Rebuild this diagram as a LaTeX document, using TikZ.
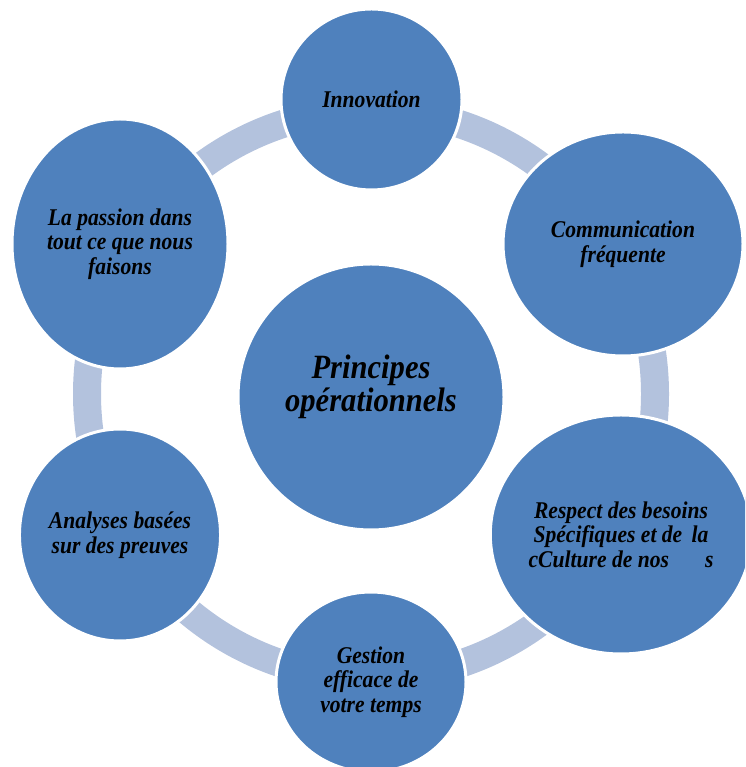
\documentclass[tikz,border=0pt]{standalone}
\usepackage{fontspec}
\newfontfamily\bubblefont[FakeStretch=0.9]{Liberation Serif}
\usetikzlibrary{shapes.geometric}

\definecolor{bubbleblue}{HTML}{4F81BD}
\definecolor{ringblue}{HTML}{B3C2DD}

\tikzset{
  bubble/.style={ellipse, fill=bubbleblue, draw=white, line width=3pt,
    inner sep=0pt, align=center,
    font=\bubblefont\bfseries\itshape\fontsize{24}{24.5}\selectfont},
  hubtext/.style={align=center,
    font=\bubblefont\bfseries\itshape\fontsize{34}{33}\selectfont},
  ring/.style={draw=ringblue, line width=28pt}
}

\begin{document}
\begin{tikzpicture}[x=1pt,y=1pt]
    \useasboundingbox (0,0) rectangle (745,767);
    \clip (0,0) rectangle (745,767);

    % the band behind the bubbles
    \draw[ring] (371,373) circle (284);

    \node[bubble, minimum width=266, minimum height=266] (hub) at (371,370) {};
    \node[hubtext] (hubtitle) at (371,380) {Principes\\opérationnels};

    \node[bubble, minimum width=181, minimum height=181] (inno) at (371.5,667.5) {Innovation};
    \node[bubble, minimum width=240, minimum height=224] (comm) at (623,523) {Communication\\ fréquente};
    \node[bubble, minimum width=258, minimum height=239] (resp) at (621,232.5)
        {Respect des besoins\\ Spécifiques et de\ \,la\\cCulture de nos\hspace{36pt}s};
    \node[bubble, minimum width=190, minimum height=180] (gest) at (371,85) {Gestion\\ efficace de\\votre temps};
    \node[bubble, minimum width=200, minimum height=212] (anal) at (120,232) {Analyses basées\\ sur des preuves};
    \node[bubble, minimum width=216, minimum height=250] (pass) at (120,523) {La passion dans\\tout ce que nous\\ faisons};
\end{tikzpicture}
\end{document}
